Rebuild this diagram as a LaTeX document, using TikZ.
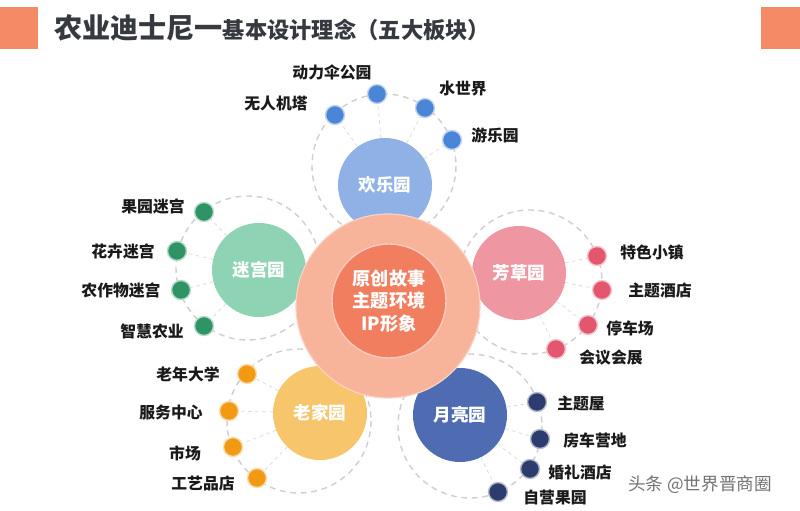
\documentclass[tikz,border=0pt]{standalone}
\usepackage{fontspec}
\setmainfont{Noto Sans CJK SC}
\usepackage{xcolor}

\definecolor{brand}{HTML}{F58A67}
\definecolor{titlegray}{HTML}{363A40}
\definecolor{ink}{HTML}{1A1A1A}
\definecolor{ringgray}{HTML}{CFCFCF}
\definecolor{hubout}{HTML}{F8B49B}
\definecolor{hubin}{HTML}{F07E5F}
\definecolor{hlfill}{HTML}{8FB1E5}
\definecolor{hldot}{HTML}{4A85D6}
\definecolor{mgfill}{HTML}{8DD3B4}
\definecolor{mgdot}{HTML}{2E9466}
\definecolor{fcfill}{HTML}{EE96A2}
\definecolor{fcdot}{HTML}{E2566E}
\definecolor{ljfill}{HTML}{F7C66C}
\definecolor{ljdot}{HTML}{F29A14}
\definecolor{ylfill}{HTML}{4F6CB2}
\definecolor{yldot}{HTML}{2C3C6E}

\begin{document}
\begin{tikzpicture}[
  x=0.03cm, y=-0.03cm,
  ring/.style={draw=ringgray,dash pattern=on 5pt off 4pt,line width=1.2pt},
  spoke/.style={draw=ringgray!80,dash pattern=on 3pt off 3pt,line width=0.6pt},
  park/.style={circle,minimum size=2.82cm,inner sep=0pt,text=white,font=\bfseries\fontsize{15}{18}\selectfont},
  leaf/.style={circle,minimum size=0.57cm,inner sep=0pt,line width=1.2pt},
  tag/.style={inner sep=0pt,text=ink,font=\bfseries\fontsize{13.5}{16}\selectfont}
]
  \fill[white] (0,0) rectangle (800,511);
  \useasboundingbox (0,0) rectangle (800,511);

  % title bar
  \fill[brand] (0,7) rectangle (38,49);
  \fill[brand] (761,7) rectangle (800,49);
  \node[anchor=base west,inner sep=0pt,text=titlegray,font=\bfseries] (title) at (54,39)
    {{\fontsize{24}{28}\selectfont 农业迪士尼一}{\fontsize{19}{22}\selectfont 基本设计理念（五大板块）}};

  % dashed rings
  \coordinate (hlr) at (384,166);
  \coordinate (mgr) at (248,268);
  \coordinate (fcr) at (530,282);
  \coordinate (ljr) at (299,421);
  \coordinate (ylr) at (470,426);
  \foreach \r in {hlr,mgr,fcr,ljr,ylr}
    \draw[ring] (\r) circle[radius=72];

  % parks
  \node[park,fill=hlfill] (hl) at (385,185) {欢乐园};
  \node[park,fill=mgfill] (mg) at (259,270) {迷宫园};
  \node[park,fill=fcfill] (fc) at (519,273) {芳草园};
  \node[park,fill=ljfill] (lj) at (320,413) {老家园};
  \node[park,fill=ylfill] (yl) at (460,415) {月亮园};

  % leaves
  \node[leaf,fill=hldot,draw=hldot!35] (hl1) at (335,115) {};
  \node[leaf,fill=hldot,draw=hldot!35] (hl2) at (377,94) {};
  \node[leaf,fill=hldot,draw=hldot!35] (hl3) at (425,108) {};
  \node[leaf,fill=hldot,draw=hldot!35] (hl4) at (452,140) {};
  \node[leaf,fill=mgdot,draw=mgdot!35] (mg1) at (204,212) {};
  \node[leaf,fill=mgdot,draw=mgdot!35] (mg2) at (177,251) {};
  \node[leaf,fill=mgdot,draw=mgdot!35] (mg3) at (181,290) {};
  \node[leaf,fill=mgdot,draw=mgdot!35] (mg4) at (204,326) {};
  \node[leaf,fill=fcdot,draw=fcdot!35] (fc1) at (597,256) {};
  \node[leaf,fill=fcdot,draw=fcdot!35] (fc2) at (602,290) {};
  \node[leaf,fill=fcdot,draw=fcdot!35] (fc3) at (588,325) {};
  \node[leaf,fill=fcdot,draw=fcdot!35] (fc4) at (556,349) {};
  \node[leaf,fill=ljdot,draw=ljdot!35] (lj1) at (247,374) {};
  \node[leaf,fill=ljdot,draw=ljdot!35] (lj2) at (229,411) {};
  \node[leaf,fill=ljdot,draw=ljdot!35] (lj3) at (233,447) {};
  \node[leaf,fill=ljdot,draw=ljdot!35] (lj4) at (257,478) {};
  \node[leaf,fill=yldot,draw=yldot!35] (yl1) at (537,402) {};
  \node[leaf,fill=yldot,draw=yldot!35] (yl2) at (540,439) {};
  \node[leaf,fill=yldot,draw=yldot!35] (yl3) at (530,469) {};
  \node[leaf,fill=yldot,draw=yldot!35] (yl4) at (498,492) {};

  % spokes
  \foreach \p in {hl,mg,fc,lj,yl}
    \foreach \i in {1,...,4}
      \draw[spoke] (\p) -- (\p\i);

  % hub
  \node[circle,fill=hubout,draw=hubout!60!white,line width=1pt,minimum size=5.52cm] (hub) at (388,306) {};
  \node[circle,fill=hubin,draw=hubin!40!white,line width=1.2pt,minimum size=3.42cm,
        align=center,text=white,font=\bfseries\fontsize{15.5}{19.5}\selectfont] (core) at (389,301)
    {原创故事\\主题环境\\IP形象};

  % labels
  \node[tag] (t-hl1) at (276,103) {无人机塔};
  \node[tag] (t-hl2) at (332,72) {动力伞公园};
  \node[tag] (t-hl3) at (463,89) {水世界};
  \node[tag] (t-hl4) at (495,135) {游乐园};
  \node[tag] (t-mg1) at (153,207) {果园迷宫};
  \node[tag] (t-mg2) at (123,251) {花卉迷宫};
  \node[tag] (t-mg3) at (121,290) {农作物迷宫};
  \node[tag] (t-mg4) at (152,331) {智慧农业};
  \node[tag] (t-fc1) at (652,252) {特色小镇};
  \node[tag] (t-fc2) at (660,290) {主题酒店};
  \node[tag] (t-fc3) at (630,328) {停车场};
  \node[tag] (t-fc4) at (611,358) {会议会展};
  \node[tag] (t-lj1) at (188,374) {老年大学};
  \node[tag] (t-lj2) at (171,412) {服务中心};
  \node[tag] (t-lj3) at (185,453) {市场};
  \node[tag] (t-lj4) at (203,483) {工艺品店};
  \node[tag] (t-yl1) at (581,403) {主题屋};
  \node[tag] (t-yl2) at (595,440) {房车营地};
  \node[tag] (t-yl3) at (580,472) {婚礼酒店};
  \node[tag] (t-yl4) at (555,497) {自营果园};

  % watermark
  \node[inner sep=0pt,text=black!55,font=\fontsize{15}{18}\selectfont] (wm) at (700,485) {头条 @世界晋商圈};
\end{tikzpicture}
\end{document}
